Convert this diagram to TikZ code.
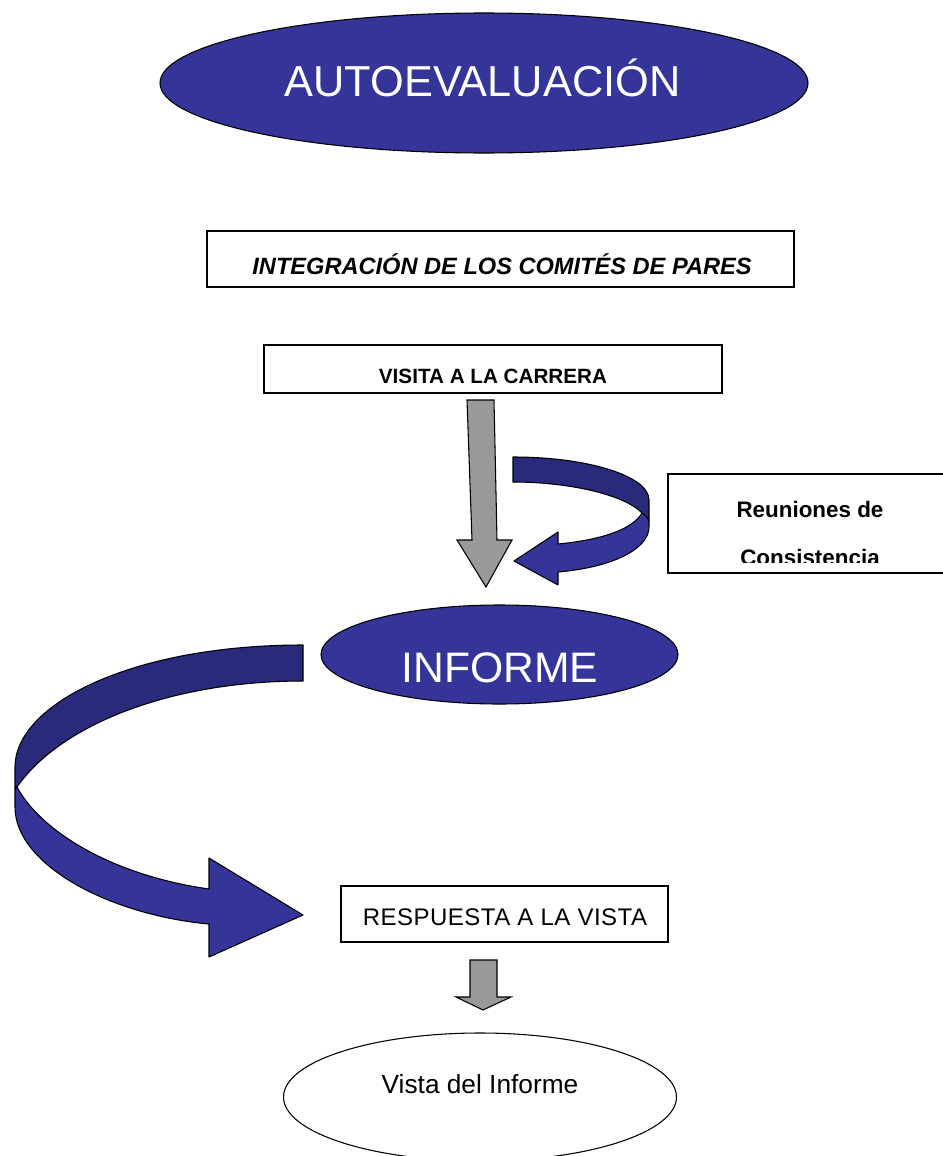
\documentclass[tikz,border=0pt]{standalone}
\usepackage{fontspec}
\setmainfont{Liberation Sans}
\usetikzlibrary{shapes.geometric}
\definecolor{rblue}{HTML}{353599}
\definecolor{rdark}{HTML}{2A2A7C}
\definecolor{rgray}{HTML}{999999}
\begin{document}
\begin{tikzpicture}[x=0.75pt,y=-0.75pt,
  blueell/.style={ellipse, draw=black, line width=0.8pt, fill=rblue, inner sep=0pt},
  whiteell/.style={ellipse, draw=black, line width=0.8pt, fill=white, inner sep=0pt},
  boxst/.style={rectangle, draw=black, line width=0.9pt, fill=white, inner sep=0pt},
  ribbon/.style={draw=black, line width=0.8pt, line join=round},
  grayarrow/.style={draw=black, fill=rgray, line width=0.8pt, line join=miter},
  txt/.style={anchor=base, inner sep=0pt}]
\useasboundingbox (0,0) rectangle (942,1156);

% shapes
\node[blueell, minimum width=486pt, minimum height=105pt] (autoell) at (484,83) {};
\node[boxst, minimum width=440.25pt, minimum height=42pt] (integbox) at (500.5,259) {};
\node[boxst, minimum width=343.5pt, minimum height=36pt] (visitabox) at (493,369) {};
\node[boxst, minimum width=249pt, minimum height=74.25pt] (reunbox) at (834,523.5) {};
\node[blueell, minimum width=267.75pt, minimum height=74.25pt] (infell) at (499.5,654.5) {};
\node[boxst, minimum width=245.25pt, minimum height=42pt] (respbox) at (504.5,914) {};
\node[whiteell, minimum width=294.75pt, minimum height=96pt] (vistaell) at (480,1097) {};

% texts
\node[txt, text=white, font=\fontsize{32.5pt}{38pt}\selectfont] (autotxt) at (482.5,97) {AUTOEVALUACIÓN};
\node[txt, font=\fontsize{17.7pt}{21pt}\selectfont\bfseries\itshape] (integtxt) at (502,274) {INTEGRACIÓN DE LOS COMITÉS DE PARES};
\node[txt, font=\fontsize{15.5pt}{18pt}\selectfont\bfseries] (visitatxt) at (493,383) {VISITA A LA CARRERA};
\node[txt, font=\fontsize{16.8pt}{20pt}\selectfont\bfseries] (reuntxt) at (810,517) {Reuniones de};
\begin{scope}
\clip (668,474) rectangle (942,562);
\node[txt, font=\fontsize{16.8pt}{20pt}\selectfont\bfseries] (constxt) at (810,565) {Consistencia};
\end{scope}
\node[txt, text=white, font=\fontsize{32pt}{38pt}\selectfont] (inftxt) at (500,682) {INFORME};
\node[txt, font=\fontsize{18pt}{21pt}\selectfont\addfontfeatures{LetterSpace=2}] (resptxt) at (505,925) {RESPUESTA A LA VISTA};
\node[txt, font=\fontsize{19.7pt}{24pt}\selectfont] (vistatxt) at (480,1093) {Vista del Informe};

% gray arrows
\draw[grayarrow] (467,400) -- (494,400) -- (497,540) -- (512,540) -- (486,587) -- (457,540) -- (472,540) -- cycle;
\draw[grayarrow] (470,960) -- (497,960) -- (497,997) -- (511,997) -- (483,1010) -- (456,997) -- (470,997) -- cycle;

% small curved ribbon arrow
\draw[ribbon, fill=rdark] (513,457) .. controls (588,457) and (649,476) .. (649,500) -- (649,521)
  .. controls (647,517) and (645,515) .. (642,513)
  .. controls (625,495) and (570,482) .. (513,482) -- cycle;
\draw[ribbon, fill=rblue] (642,513) .. controls (632,530) and (600,540) .. (558,544)
  -- (558,532) -- (514,561) -- (558,585) -- (558,572)
  .. controls (615,567) and (649,548) .. (649,527) -- (649,521)
  .. controls (647,517) and (645,515) .. (642,513) -- cycle;

% big curved ribbon arrow
\draw[ribbon, fill=rdark] (303,645) .. controls (130,645) and (15,705) .. (15,767) -- (15,789) -- (17,787)
  .. controls (60,725) and (170,681) .. (303,681) -- cycle;
\draw[ribbon, fill=rblue] (17,787) .. controls (40,830) and (110,875) .. (209,889)
  -- (209,858) -- (303,915) -- (209,957) -- (209,924)
  .. controls (110,915) and (15,865) .. (15,807) -- (15,789) -- cycle;
\end{tikzpicture}
\end{document}
